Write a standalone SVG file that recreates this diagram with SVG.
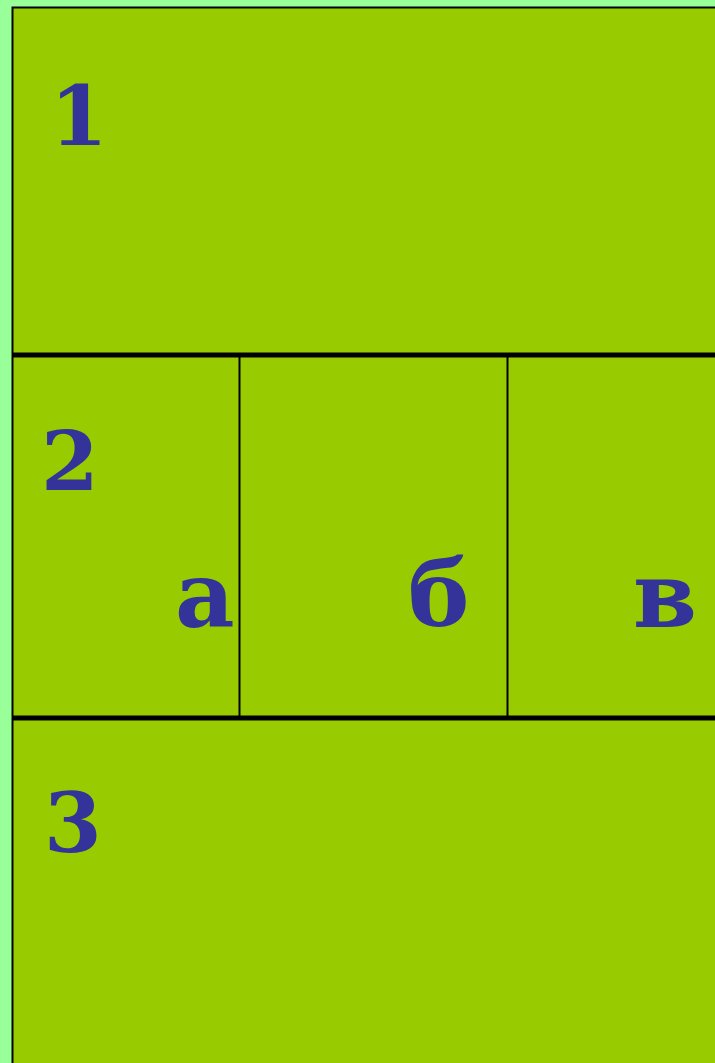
<svg xmlns="http://www.w3.org/2000/svg" width="715" height="1063" viewBox="0 0 715 1063">
<style>
.t{font-family:"DejaVu Serif","Liberation Serif",serif;font-weight:bold;fill:#333399}
.d{font-size:83px}
.l{font-size:92px}
</style>
<rect x="0" y="0" width="715" height="1063" fill="#99FF99"/>
<g id="frame">
<rect x="12.5" y="7.5" width="720" height="1070" fill="#99CC00" stroke="#000" stroke-width="2"/>
</g>
<g id="connectors" stroke="#000">
<line x1="12" y1="355" x2="715" y2="355" stroke-width="5"/>
<line x1="12" y1="718" x2="715" y2="718" stroke-width="5"/>
<line x1="239.5" y1="355" x2="239.5" y2="718" stroke-width="2"/>
<line x1="507.5" y1="355" x2="507.5" y2="718" stroke-width="2"/>
</g>
<g id="n1"><text class="t d" x="50" y="145">1</text></g>
<g id="n2"><text class="t d" x="41" y="490">2</text></g>
<g id="n3"><text class="t d" x="44" y="852">3</text></g>
<g id="na"><text class="t l" x="175" y="627">а</text></g>
<g id="nb"><text class="t l" x="408" y="626">б</text></g>
<g id="nc"><text class="t l" x="633" y="627">в</text></g>
</svg>
